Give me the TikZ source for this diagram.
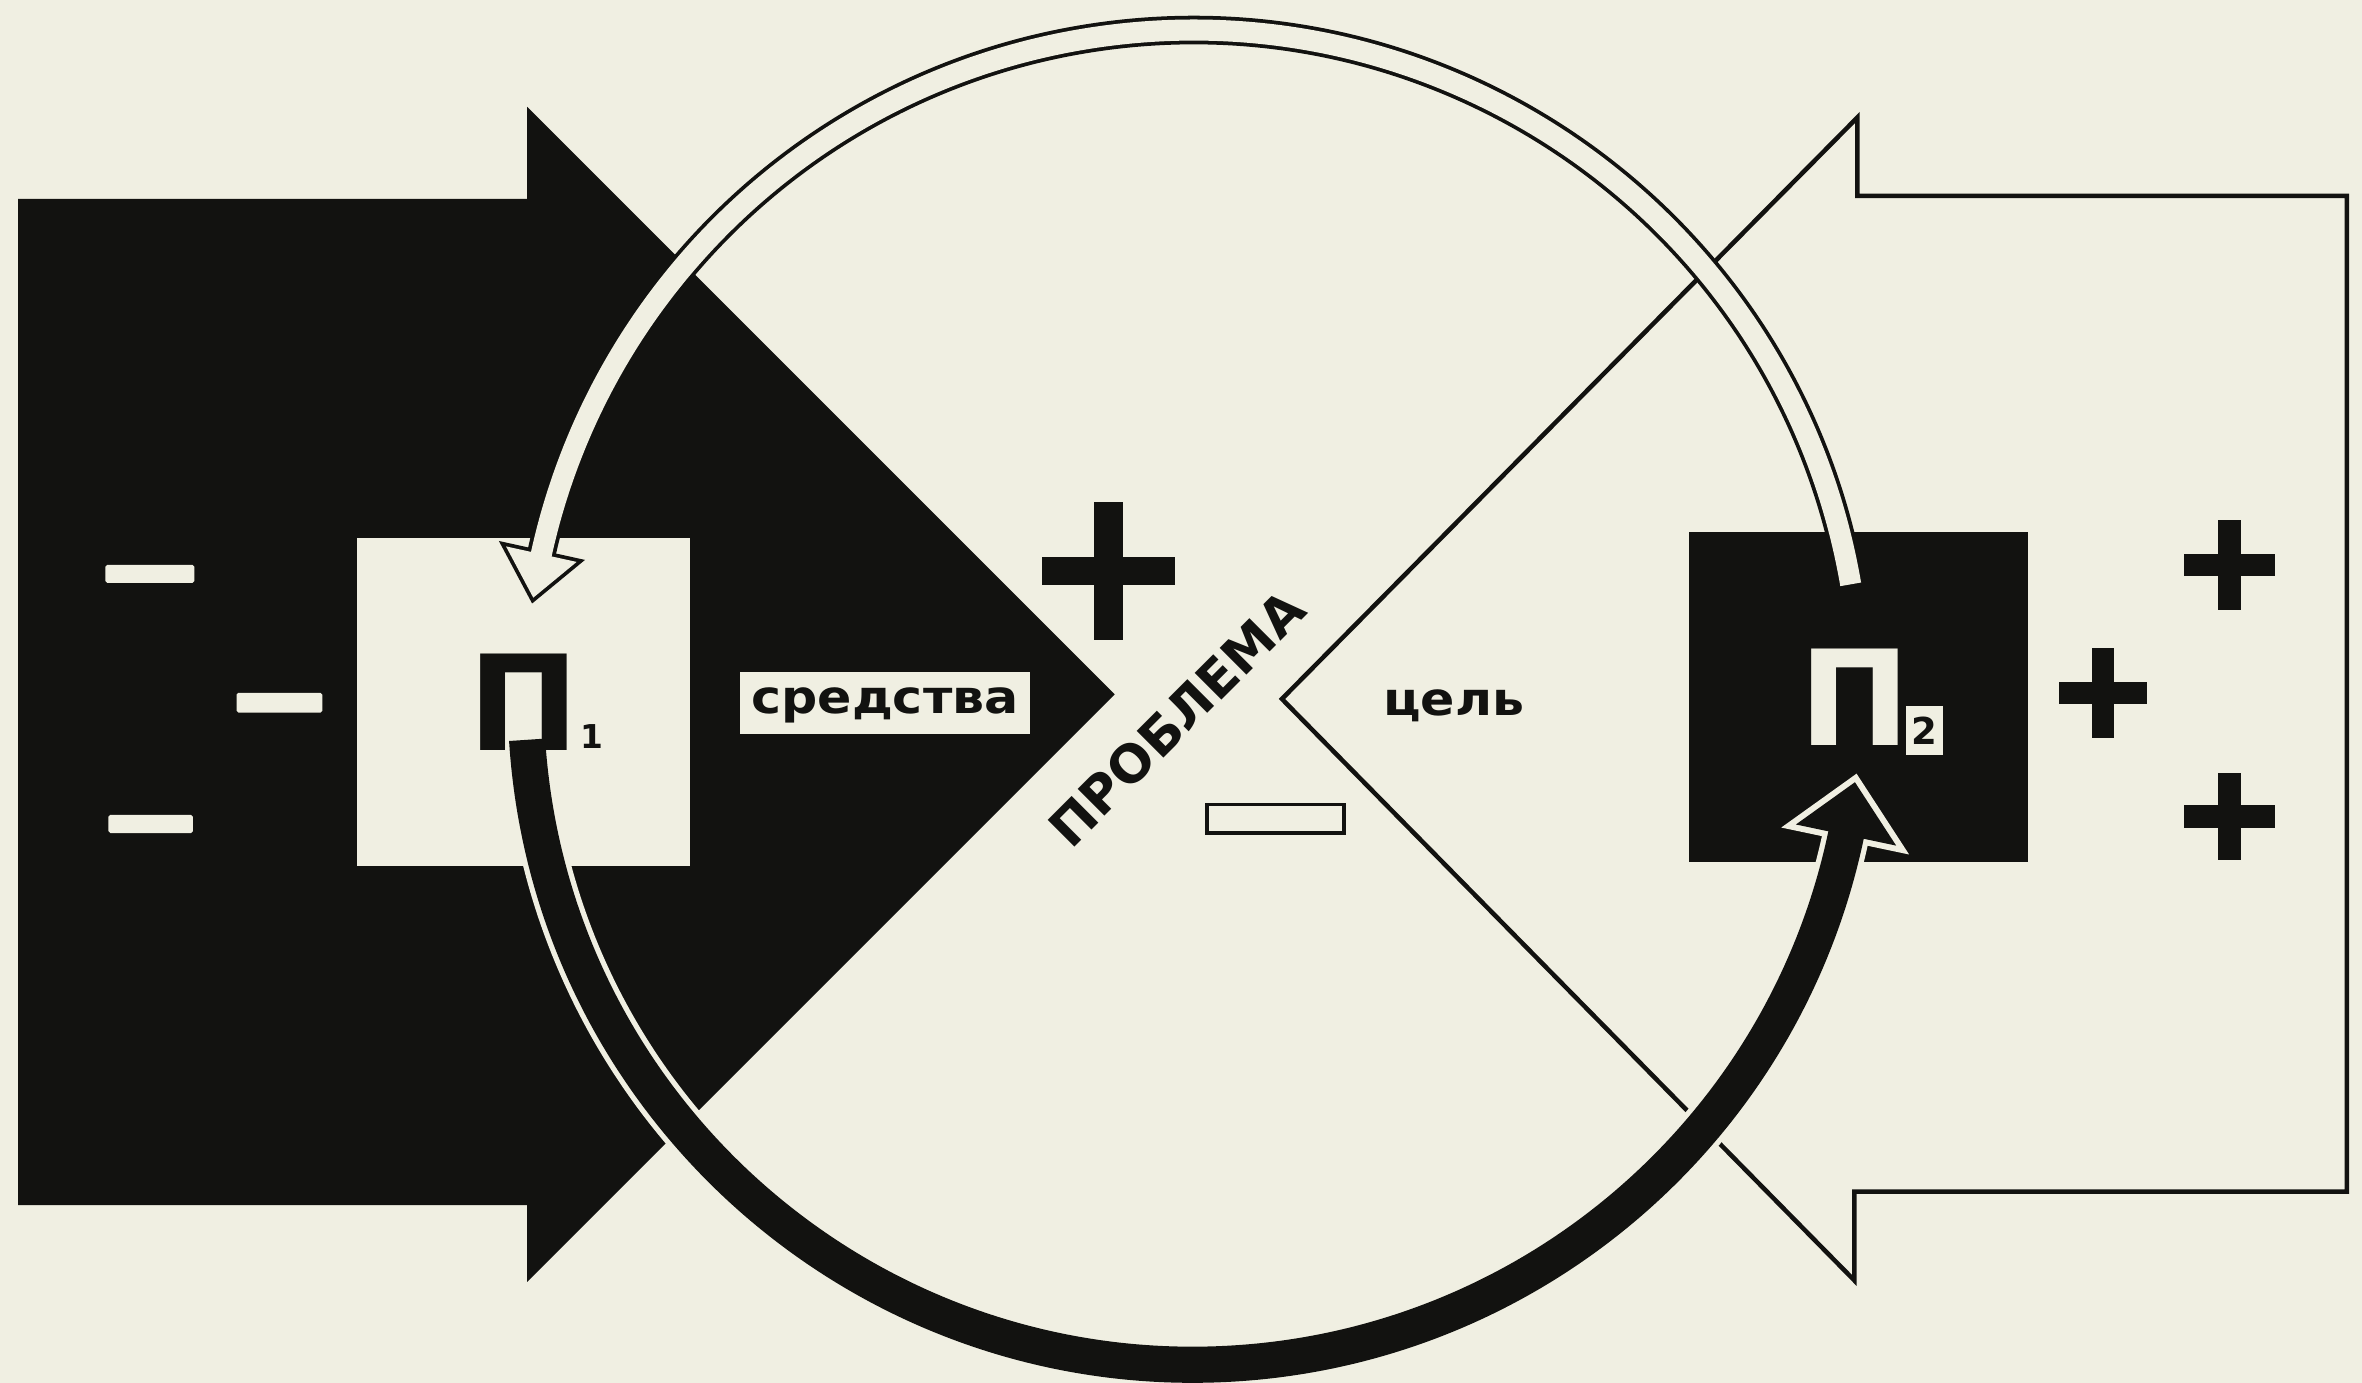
\documentclass[tikz,border=0pt]{standalone}
\usepackage{fontspec}
\newfontfamily\djv{DejaVu Sans}
\definecolor{paper}{RGB}{240,239,226}
\definecolor{ink}{RGB}{18,18,16}
\newcommand{\plusmark}[5]{%
  \fill[ink] (#1-#3,#2-#5) rectangle (#1+#3,#2+#5);
  \fill[ink] (#1-#5,#2-#4) rectangle (#1+#5,#2+#4);}
\tikzset{
  boxp/.style={fill=paper, inner sep=0, outer sep=0},
  boxi/.style={fill=ink, inner sep=0, outer sep=0},
  lbl/.style={font=\djv\bfseries\fontsize{8.7}{10}\selectfont, text=ink, inner sep=0},
  bigp/.style={font=\djv\bfseries\fontsize{25}{25}\selectfont, inner sep=0},
  dashmark/.style={fill=paper, rounded corners=0.12mm}
}
\begin{document}
\begin{tikzpicture}[x=0.1mm, y=-0.1mm]
\useasboundingbox (0,0) rectangle (1568,918);
\fill[paper] (0,0) rectangle (1568,918);
% left black arrow
\fill[ink] (12,132) -- (350,132) -- (350,71) -- (740,461) -- (350,851) -- (350,800) -- (12,800) -- cycle;
% right outlined arrow
\draw[ink, line width=0.3mm, fill=paper, line join=miter] (1558,130) -- (1233,130) -- (1233,78) -- (851,464) -- (1231,850) -- (1231,791) -- (1558,791) -- cycle;
% minus marks on the black arrow
\fill[dashmark] (70,375) rectangle (129,387);
\fill[dashmark] (157,460) rectangle (214,473);
\fill[dashmark] (72,541) rectangle (128,553);
% boxes
\node[boxp, minimum width=22.1mm, minimum height=21.8mm] (P1) at (347.5,466) {};
\node[boxi, minimum width=22.5mm, minimum height=21.9mm] (P2) at (1233.5,462.5) {};
\node[boxp, minimum width=19.3mm, minimum height=4.1mm] (meansbox) at (587.5,466.5) {};
\node[lbl, anchor=base] (means) at (587.5,473.5) {\scalebox{1.1}[1]{средства}};
\node[lbl, anchor=base] (goal) at (965,475) {\scalebox{1.1}[1]{цель}};
% plus marks
\plusmark{736}{379}{44}{46}{9.5}
\plusmark{1480}{375}{30}{30}{7.5}
\plusmark{1396}{460}{29}{30}{7.5}
\plusmark{1480}{542}{30}{29}{7.5}
% minus box
\node[draw=ink, fill=paper, line width=0.25mm, minimum width=9.1mm, minimum height=1.9mm, inner sep=0] (minus) at (846.5,543.5) {};
% ПРОБЛЕМА
\node[font=\djv\bfseries\fontsize{9.8}{11}\selectfont, text=ink, inner sep=0, rotate=45] (prob) at (781,477) {ПРОБЛЕМА};
% arcs
\coordinate (C) at (792,463);
\begin{scope}[shift={(C)}]
  \coordinate (topstart) at (-9.76:443);
  \coordinate (botstart) at (176.36:443);
  % top hollow arrow: outline layer
  \draw[ink, line width=1.9mm] (topstart) arc[start angle=-9.76, end angle=-168.5, radius=443];
  \filldraw[ink, line width=0.5mm, line join=miter] (-171.4:443) -- (-167.6:467) -- (-167.6:419) -- cycle;
  % top hollow arrow: paper layer
  \draw[paper, line width=1.4mm] (topstart) arc[start angle=-9.76, end angle=-168.5, radius=443];
  \fill[paper] (-171.4:443) -- (-167.6:467) -- (-167.6:419) -- cycle;
  % bottom black arrow: white outline layer
  \draw[paper, line width=3.1mm] (botstart) arc[start angle=176.36, end angle=11, radius=443];
  \filldraw[paper, line width=0.8mm, line join=miter] (7.3:443) -- (11.9:477) -- (11.9:409) -- cycle;
  % bottom black arrow: black layer
  \draw[ink, line width=2.4mm] (botstart) arc[start angle=176.36, end angle=11, radius=443];
  \fill[ink] (7.3:443) -- (11.9:477) -- (11.9:409) -- cycle;
\end{scope}
% P labels
\node[bigp, text=ink, anchor=base] (p1glyph) at (348,498) {П};
\node[font=\djv\bfseries\fontsize{6.2}{7}\selectfont, text=ink, inner sep=0, anchor=base] (p1sub) at (393,497) {1};
\node[bigp, text=paper, anchor=base] (p2glyph) at (1231.5,495) {П};
\node[boxp, minimum width=2.5mm, minimum height=3.2mm] (p2subbox) at (1277.5,485) {};
\node[font=\djv\bfseries\fontsize{7}{8}\selectfont, text=ink, inner sep=0, anchor=base] (p2sub) at (1277.5,494) {2};
\end{tikzpicture}
\end{document}
